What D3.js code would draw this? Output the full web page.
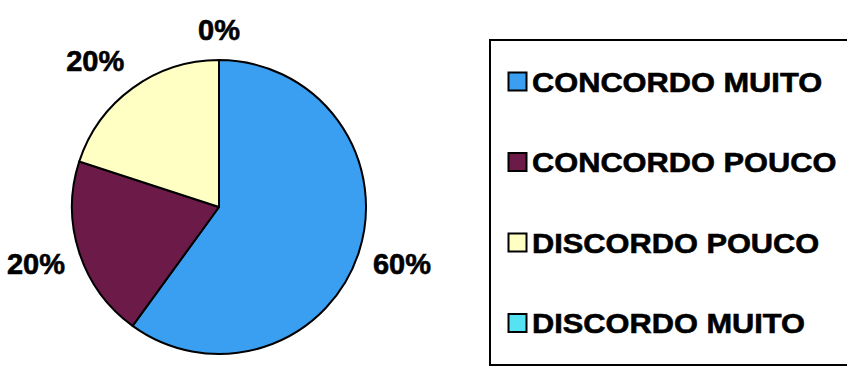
<!DOCTYPE html>
<html>
<head>
<meta charset="utf-8">
<script src="https://cdn.jsdelivr.net/npm/d3@7"></script>
<style>
  html, body { margin: 0; padding: 0; background: #ffffff; }
  svg { display: block; }
  text { font-family: "Liberation Sans", Arial, Helvetica, sans-serif; font-weight: bold; fill: #000; stroke: #000; stroke-width: 0.6px; }
</style>
</head>
<body>
<svg id="chart" width="847" height="367"></svg>
<script>
const categories = ["CONCORDO MUITO", "CONCORDO POUCO", "DISCORDO POUCO", "DISCORDO MUITO"];
const values = [60, 20, 20, 0];
const labels = ["60%", "20%", "20%", "0%"];
const colors = ["#3a9ff0", "#6c1a48", "#ffffc4", "#55e3f3"];

const svg = d3.select("#chart");
const cx = 219, cy = 207, R = 147;

const pie = d3.pie().sort(null).value(d => d.v).startAngle(0).endAngle(2 * Math.PI);
const data = categories.map((c, i) => ({ c, v: values[i], label: labels[i], color: colors[i] }));
const arcs = pie(data);
const arc = d3.arc().innerRadius(0).outerRadius(R);

const g = svg.append("g").attr("transform", `translate(${cx},${cy})`);
g.selectAll("path.slice")
  .data(arcs.filter(a => a.data.v > 0))
  .join("path")
  .attr("class", "slice")
  .attr("d", arc)
  .attr("fill", d => d.data.color)
  .attr("stroke", "#000")
  .attr("stroke-width", 2)
  .attr("stroke-linejoin", "round");

// labels
const labelR = 163, lw = 56, lh = 21;
g.selectAll("text.lbl")
  .data(arcs)
  .join("text")
  .attr("class", "lbl")
  .attr("text-anchor", "middle")
  .attr("font-size", 29)
  .each(function (d) {
    const a = (d.startAngle + d.endAngle) / 2;
    const dx = Math.sin(a), dy = -Math.cos(a);
    const sx = Math.abs(dx) < 1e-6 ? 0 : Math.sign(dx);
    const sy = Math.abs(dy) < 1e-6 ? 0 : Math.sign(dy);
    const x = labelR * dx + (lw / 2) * sx;
    const y = labelR * dy + (lh / 2) * sy;
    d3.select(this).attr("x", x).attr("y", y + 6);
  })
  .text(d => d.data.label);

// legend
const legend = svg.append("g");
legend.append("rect")
  .attr("x", 490).attr("y", 40)
  .attr("width", 380).attr("height", 325)
  .attr("fill", "#fff")
  .attr("stroke", "#000")
  .attr("stroke-width", 2);

const rowY = d3.scalePoint().domain(categories).range([81.5, 323]);
const items = legend.selectAll("g.item")
  .data(data)
  .join("g")
  .attr("class", "item")
  .attr("transform", d => `translate(0,${rowY(d.c)})`);

items.append("rect")
  .attr("x", 508.5).attr("y", -9)
  .attr("width", 18).attr("height", 18)
  .attr("fill", d => d.color)
  .attr("stroke", "#000")
  .attr("stroke-width", 2)
  .style("stroke-width", "2px");

items.append("text")
  .attr("transform", "translate(532,10) scale(1.08,1)")
  .attr("font-size", 28.5)
  .text(d => d.c);
</script>
</body>
</html>
